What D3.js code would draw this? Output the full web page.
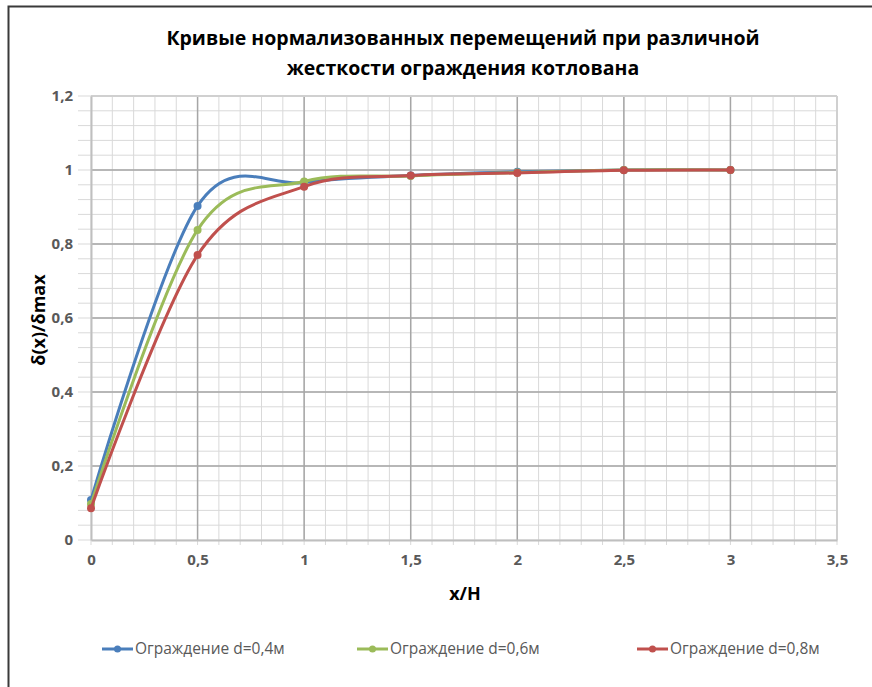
<!DOCTYPE html>
<html>
<head>
<meta charset="utf-8">
<script src="https://cdn.jsdelivr.net/npm/d3@7"></script>
<style>
  body { margin: 0; background: #fff; }
  svg { display: block; font-family: "Open Sans", sans-serif; }
</style>
</head>
<body>
<div id="chart"></div>
<script>
// data
const xValues = [0, 0.5, 1, 1.5, 2, 2.5, 3];
const wall04 = [0.108, 0.903, 0.966, 0.985, 0.995, 1.0, 1.0];
const wall06 = [0.097, 0.838, 0.969, 0.984, 0.993, 1.0, 1.0];
const wall08 = [0.086, 0.770, 0.955, 0.985, 0.992, 0.999, 1.0];
const seriesNames = ["Ограждение d=0,4м", "Ограждение d=0,6м", "Ограждение d=0,8м"];
const xTicks = [0, 0.5, 1, 1.5, 2, 2.5, 3, 3.5];
const yTicks = [0, 0.2, 0.4, 0.6, 0.8, 1, 1.2];
const titleLines = ["Кривые нормализованных  перемещений при различной", "жесткости ограждения  котлована"];

const colors = ["#4a7ebb", "#9bbb59", "#c0504d"];
const allSeries = [wall04, wall06, wall08];

const W = 872, H = 687;
const margin = {left: 91, right: 35, top: 96, bottom: 147};
const innerW = W - margin.left - margin.right;
const innerH = H - margin.top - margin.bottom;

const svg = d3.select("#chart").append("svg")
    .attr("width", W)
    .attr("height", H);

// chart frame
svg.append("rect")
    .attr("x", 8.5).attr("y", 6.5)
    .attr("width", W + 20).attr("height", H + 20)
    .attr("fill", "#fff")
    .attr("stroke", "#3a3a3a")
    .attr("stroke-width", 2);

// title
svg.append("g").selectAll("text")
    .data(titleLines)
    .join("text")
    .attr("x", 463)
    .attr("y", (d, i) => 45 + i * 30)
    .attr("text-anchor", "middle")
    .attr("font-size", 19.5)
    .attr("font-weight", "bold")
    .attr("fill", "#000")
    .text(d => d);

const g = svg.append("g")
    .attr("transform", "translate(" + margin.left + "," + margin.top + ")");

const x = d3.scaleLinear().domain([0, 3.5]).range([0, innerW]);
const y = d3.scaleLinear().domain([0, 1.2]).range([innerH, 0]);

// minor grid
const xMinor = d3.range(0, 36).map(i => i / 10);
const yMinor = d3.range(0, 31).map(i => i * 0.04);

g.append("g").selectAll("line")
    .data(xMinor)
    .join("line")
    .attr("x1", d => x(d)).attr("x2", d => x(d))
    .attr("y1", 0).attr("y2", innerH + 5)
    .attr("stroke", "#d9d9d9")
    .attr("stroke-width", 1);

g.append("g").selectAll("line")
    .data(yMinor)
    .join("line")
    .attr("x1", -13).attr("x2", innerW)
    .attr("y1", d => y(d)).attr("y2", d => y(d))
    .attr("stroke", "#d9d9d9")
    .attr("stroke-width", 1);

// major grid
g.append("g").selectAll("line")
    .data(xTicks.slice(1, -1))
    .join("line")
    .attr("x1", d => x(d)).attr("x2", d => x(d))
    .attr("y1", 0).attr("y2", innerH)
    .attr("stroke", "#a6a6a6")
    .attr("stroke-width", 1.5);

g.append("g").selectAll("line")
    .data(yTicks.slice(1, -1))
    .join("line")
    .attr("x1", 0).attr("x2", innerW)
    .attr("y1", d => y(d)).attr("y2", d => y(d))
    .attr("stroke", "#a6a6a6")
    .attr("stroke-width", 1.5);

// border of plot
g.append("line")
    .attr("x1", 0).attr("x2", innerW).attr("y1", 0).attr("y2", 0)
    .attr("stroke", "#d0d0d0").attr("stroke-width", 2);
g.append("line")
    .attr("x1", innerW).attr("x2", innerW).attr("y1", 0).attr("y2", innerH)
    .attr("stroke", "#d0d0d0").attr("stroke-width", 2);

// axes
const xAxis = d3.axisBottom(x).tickValues(xTicks).tickSize(0).tickPadding(14)
    .tickFormat(d => String(d).replace(".", ","));
const yAxis = d3.axisLeft(y).tickValues(yTicks).tickSize(0).tickPadding(18)
    .tickFormat(d => String(+d.toFixed(1)).replace(".", ","));

const gx = g.append("g").attr("transform", "translate(0," + innerH + ")").call(xAxis);
const gy = g.append("g").call(yAxis);

[gx, gy].forEach(a => {
    a.select(".domain").attr("stroke", "#bfbfbf").attr("stroke-width", 2);
    a.selectAll("text")
        .attr("font-family", "Open Sans, sans-serif")
        .attr("font-size", 15)
        .attr("font-weight", "bold")
        .attr("fill", "#595959");
});

// axis titles
svg.append("text")
    .attr("x", 465).attr("y", 600)
    .attr("text-anchor", "middle")
    .attr("font-size", 18).attr("font-weight", "bold")
    .attr("fill", "#000")
    .text("x/H");

svg.append("text")
    .attr("transform", "translate(45,320) rotate(-90)")
    .attr("text-anchor", "middle")
    .attr("font-size", 18).attr("font-weight", "bold")
    .attr("fill", "#000")
    .text("δ(x)/δmax");

// series
const line = d3.line()
    .x((d, i) => x(xValues[i]))
    .y(d => y(d))
    .curve(d3.curveCatmullRom.alpha(0));

allSeries.forEach((s, k) => {
    g.append("path")
        .datum(s)
        .attr("d", line)
        .attr("fill", "none")
        .attr("stroke", colors[k])
        .attr("stroke-width", 3);
    g.append("g").selectAll("circle")
        .data(s)
        .join("circle")
        .attr("cx", (d, i) => x(xValues[i]))
        .attr("cy", d => y(d))
        .attr("r", 4)
        .attr("fill", colors[k]);
});

// legend
const legendX = [102, 357, 637];
const legend = svg.append("g").selectAll("g")
    .data(seriesNames)
    .join("g")
    .attr("transform", (d, i) => "translate(" + legendX[i] + ",649)");

legend.append("line")
    .attr("x1", 0).attr("x2", 31)
    .attr("stroke", (d, i) => colors[i])
    .attr("stroke-width", 3);
legend.append("circle")
    .attr("cx", 15.5).attr("r", 3.5)
    .attr("fill", (d, i) => colors[i]);
legend.append("text")
    .attr("x", 33).attr("dy", "0.35em")
    .attr("font-size", 15.5)
    .attr("fill", "#595959")
    .text(d => d);
</script>
</body>
</html>
